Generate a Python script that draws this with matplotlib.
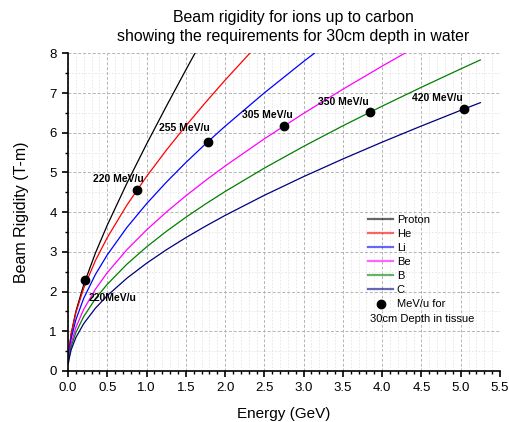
import matplotlib
matplotlib.use("Agg")
import matplotlib.pyplot as plt
from matplotlib.lines import Line2D
from matplotlib.ticker import MultipleLocator

plt.rcParams['font.family'] = ['Liberation Sans', 'DejaVu Sans']

# kinetic energy of the whole ion (GeV)
energia = [0.005, 0.01, 0.04, 0.1, 0.2, 0.35, 0.5, 0.75, 1.0, 1.25,
           1.5, 1.75, 2.0, 2.5, 3.0, 3.5, 4.0, 4.5, 5.0, 5.25]

# beam rigidity (T-m) for each ion, same energy grid (curves stop past 8 T-m)
rig_proton = [0.3267, 0.4628, 0.9328, 1.4977, 2.1711, 2.9740, 3.6725, 4.7284,
              5.7139, 6.6601, 7.5819, 8.4871]
rig_he = [0.3253, 0.4603, 0.9223, 1.4641, 2.0842, 2.7841, 3.3595, 4.1786,
          4.8980, 5.5565, 6.1736, 6.7607, 7.3250, 8.4034]
rig_li = [0.2871, 0.4061, 0.8132, 1.2887, 1.8293, 2.4336, 2.9249, 3.6151,
          4.2120, 4.7507, 5.2495, 5.7185, 6.1647, 7.0058, 7.7968, 8.5515]
rig_be = [0.2440, 0.3452, 0.6909, 1.0944, 1.5524, 2.0626, 2.4761, 3.0544,
          3.5520, 3.9990, 4.4110, 4.7969, 5.1625, 5.8482, 6.4889, 7.0968,
          7.6797, 8.2430]
rig_b = [0.2157, 0.3052, 0.6108, 0.9672, 1.3712, 1.8204, 2.1836, 2.6902,
         3.1246, 3.5137, 3.8711, 4.2049, 4.5205, 5.1099, 5.6580, 6.1760,
         6.6708, 7.1474, 7.6089, 7.8350]
rig_c = [0.1878, 0.2655, 0.5314, 0.8413, 1.1924, 1.5827, 1.8979, 2.3371,
         2.7132, 3.0497, 3.3584, 3.6464, 3.9183, 4.4256, 4.8966, 5.3408,
         5.7645, 6.1719, 6.5660, 6.7589]

ions = ["Proton", "He", "Li", "Be", "B", "C"]
cores = ["black", "#ff0000", "#0000ff", "#ff00ff", "#008000", "#000080"]
curvas = [rig_proton, rig_he, rig_li, rig_be, rig_b, rig_c]

# energy needed for 30 cm depth in water, per ion
pontos_e = [0.22, 0.88, 1.785, 2.745, 3.85, 5.04]
pontos_rig = [2.29, 4.56, 5.78, 6.17, 6.52, 6.60]
rotulos = ["220MeV/u", "220 MeV/u", "255 MeV/u", "305 MeV/u", "350 MeV/u", "420 MeV/u"]
desloc = [(27, -18), (-19, 11), (-24, 14), (-16, 11), (-27, 10), (-26, 11)]

fig = plt.figure(figsize=(5.1, 4.22), dpi=100)
ax = fig.add_axes([0.1333, 0.1209, 0.8471, 0.7526])

for nome, cor, rig in zip(ions, cores, curvas):
    ax.plot(energia[:len(rig)], rig, color=cor, linewidth=0.9, label=nome)

ax.plot(pontos_e, pontos_rig, 'o', color='black', markersize=6, zorder=5)

for x, y, txt, (dx, dy) in zip(pontos_e, pontos_rig, rotulos, desloc):
    ax.annotate(txt, (x, y), xytext=(dx, dy), textcoords='offset pixels',
                ha='center', va='center', fontsize=7.5, fontweight='bold')

ax.set_xlim(0, 5.5)
ax.set_ylim(0, 8)
ax.xaxis.set_major_locator(MultipleLocator(0.5))
ax.xaxis.set_minor_locator(MultipleLocator(0.1))
ax.yaxis.set_major_locator(MultipleLocator(1))
ax.yaxis.set_minor_locator(MultipleLocator(0.5))
ax.xaxis.set_major_formatter(matplotlib.ticker.FormatStrFormatter('%.1f'))

ax.grid(which='major', color='#b4b4b4', linestyle=(0, (3, 2)), linewidth=0.7)
ax.grid(which='minor', color='#e4e4e4', linestyle=(0, (2, 2)), linewidth=0.6)
ax.set_axisbelow(True)

ax.spines['top'].set_visible(False)
ax.spines['right'].set_visible(False)
ax.spines['left'].set_linewidth(1.2)
ax.spines['bottom'].set_linewidth(1.2)
ax.tick_params(which='major', direction='out', length=4.5, width=1.2, labelsize=9.5)
ax.tick_params(which='minor', direction='out', length=2.5, width=1.0)

ax.set_xlabel("Energy (GeV)", fontsize=11, labelpad=9)
ax.set_ylabel("Beam Rigidity (T-m)", fontsize=11.5, labelpad=15)

fig.text(293 / 510, 1 - 10 / 422,
         "Beam rigidity for ions up to carbon\nshowing the requirements for 30cm depth in water",
         ha='center', va='top', fontsize=11.4, linespacing=1.3)

# legenda sem moldura
alcas = [Line2D([], [], color=c, linewidth=1.6, alpha=0.6) for c in cores]
alcas.append(Line2D([], [], marker='o', color='black', linestyle='none', markersize=6))
nomes = ions + ["MeV/u for"]
leg = ax.legend(alcas, nomes, loc='upper left', bbox_to_anchor=(0.694, 0.492),
                frameon=False, fontsize=8, handlelength=2.3, handletextpad=0.3,
                labelspacing=0.37, borderpad=0, borderaxespad=0)
ax.text(0.698, 0.165, "30cm Depth in tissue", transform=ax.transAxes,
        fontsize=8, ha='left', va='center')

fig.savefig("out.png", dpi=100)
